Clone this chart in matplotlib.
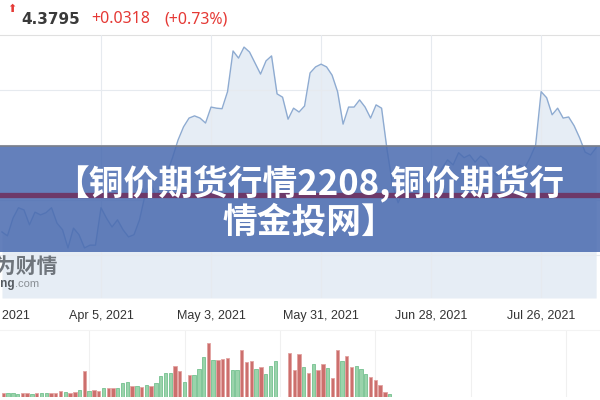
"""
Copper price chart screenshot with banner overlay.
Price line (trading-day axis) + volume bars underneath.
"""
import numpy as np
import matplotlib
matplotlib.use("Agg")
import matplotlib.pyplot as plt
import matplotlib.transforms as mtransforms
from matplotlib.patches import Rectangle

CJK = ["Noto Sans CJK SC", "DejaVu Sans"]

# ---- data -------------------------------------------------------------
START = "2021-03-09"          # first trading day on the price axis
HOLIDAYS = ["2021-04-02"]     # Good Friday, no trading
price = [
    4.420, 4.413, 4.445, 4.464, 4.460, 4.433, 4.456, 4.451, 4.455, 4.464,
    4.436, 4.424, 4.391, 4.427, 4.415, 4.391, 4.396, 4.396, 4.464, 4.445,
    4.429, 4.442, 4.424, 4.411, 4.415, 4.442, 4.487, 4.509, 4.484, 4.505,
    4.527, 4.555, 4.587, 4.611, 4.627, 4.631, 4.627, 4.618, 4.647, 4.645,
    4.644, 4.675, 4.749, 4.736, 4.756, 4.747, 4.727, 4.707, 4.731, 4.740,
    4.671, 4.665, 4.625, 4.645, 4.638, 4.649, 4.709, 4.720, 4.725, 4.720,
    4.705, 4.675, 4.616, 4.647, 4.647, 4.660, 4.647, 4.627, 4.651, 4.645,
    4.569, 4.505, 4.473, 4.496, 4.518, 4.505, 4.529, 4.515, 4.533, 4.518,
    4.536, 4.551, 4.542, 4.564, 4.555, 4.560, 4.547, 4.558, 4.551, 4.533,
    4.522, 4.533, 4.518, 4.529, 4.542, 4.536, 4.555, 4.578, 4.675, 4.664,
    4.633, 4.645, 4.627, 4.629, 4.613, 4.591, 4.565, 4.560, 4.573,
]
ref_price = 4.488             # horizontal reference line seen through banner

tick_dates = ["2021-03-08", "2021-04-05", "2021-05-03",
              "2021-05-31", "2021-06-28", "2021-07-26"]
tick_labels = ["Mar 8, 2021", "Apr 5, 2021", "May 3, 2021",
               "May 31, 2021", "Jun 28, 2021", "Jul 26, 2021"]
price_grid = [4.678, 4.578, 4.478, 4.378]

vol_slots = list(range(0, 58)) + list(range(60, 82))
volume = [
    12, 12, 12, 8, 12, 12, 8, 12, 12, 12,
    12, 12, 18, 15, 12, 15, 21, 76, 17, 21,
    18, 25, 25, 25, 25, 42, 45, 32, 32, 28,
    36, 32, 42, 63, 72, 72, 93, 76, 45, 66,
    66, 83, 120, 162, 110, 110, 114, 117, 79, 79,
    141, 104, 107, 83, 90, 69, 93, 107,
    131, 79, 128, 90, 72, 97, 79, 97, 86, 55,
    141, 107, 121, 90, 93, 83, 69, 59, 49, 36,
    14, 8,
]
# 1 = red (up day), 0 = green
vol_up = [
    1, 0, 0, 0, 1, 1, 0, 1, 0, 0,
    1, 1, 1, 0, 1, 1, 0, 1, 0, 1,
    1, 0, 1, 1, 0, 0, 0, 1, 0, 1,
    0, 1, 0, 0, 0, 0, 1, 1, 0, 1,
    0, 0, 0, 1, 0, 1, 1, 1, 0, 0,
    1, 1, 1, 0, 1, 0, 0, 0,
    1, 1, 1, 0, 1, 0, 1, 1, 0, 1,
    1, 0, 1, 1, 0, 0, 0, 1, 1, 1,
    1, 0,
]
vol_grid = [18, 38, 58, 78, 98, 118]

header_price = "4.3795"
header_change = "+0.0318"
header_pct = "(+0.73%)"
banner_lines = ["【铜价期货行情2208,铜价期货行", "情金投网】"]

# ---- layout helpers (pixels -> figure fraction) -----------------------
W, H = 600, 400
PRICE_TOP, PRICE_BOT = 35, 298
VOL_TOP, VOL_BOT = 330, 396.7
BANNER_TOP, BANNER_BOT = 146, 252


def fx(px):
    return px / W


def fy(py):
    return 1 - py / H


def ax_frac(py):
    return (PRICE_BOT - py) / (PRICE_BOT - PRICE_TOP)


fig = plt.figure(figsize=(6, 4), dpi=100)
fig.patch.set_facecolor("white")

# ---- header -------------------------------------------------------------
fig.text(fx(12), fy(9), "⬆", fontsize=8, color="#e53935", ha="center", va="center",
         family="DejaVu Sans")
fig.text(fx(21), fy(19), header_price, fontsize=11, weight="bold", color="#3a3a3a",
         family="DejaVu Sans", va="center")
fig.text(fx(91), fy(19), header_change, fontsize=11.5, color="#e53935",
         family="Noto Sans", va="center")
fig.text(fx(164), fy(19), header_pct, fontsize=11.5, color="#e53935",
         family="Noto Sans", va="center")

# ---- price panel --------------------------------------------------------
ax = fig.add_axes([0, fy(PRICE_BOT), 1, (PRICE_BOT - PRICE_TOP) / H])
x = np.arange(len(price))
ymin, ymax = 4.30, 4.778
ax.fill_between(x, price, ymin, color="#e6edf5", lw=0, zorder=1)
ax.plot(x, price, color="#8eabd1", lw=1.0, zorder=3)
ax.set_xlim(-0.36, 108.7)
ax.set_ylim(ymin, ymax)

tick_x = np.busday_count(START, tick_dates, holidays=HOLIDAYS)
ax.set_xticks(tick_x[tick_x >= 0])
ax.set_yticks(price_grid)
ax.set_xticklabels([])
ax.set_yticklabels([])
ax.tick_params(length=0)
ax.set_axisbelow(False)
ax.grid(color="#e6eaef", lw=0.8)
for side in ["left", "right", "bottom"]:
    ax.spines[side].set_visible(False)
ax.spines["top"].set_color("#e0e0e0")

# date labels (first one falls partly off the left edge, as in the screenshot)
trans = mtransforms.blended_transform_factory(ax.transData, ax.transAxes)
for tx, lab in zip(tick_x, tick_labels):
    ax.text(tx, -18 / (PRICE_BOT - PRICE_TOP), lab, transform=trans, ha="center",
            va="center", fontsize=9, color="#333333", family="Liberation Sans",
            clip_on=False)

# banner overlay
b0, b1 = ax_frac(BANNER_BOT), ax_frac(BANNER_TOP)
ax.add_patch(Rectangle((0, b0), 1, b1 - b0, transform=ax.transAxes,
                       facecolor="#4a6bb0", alpha=0.86, lw=0, zorder=5))
ax.plot([0, 1], [b1, b1], transform=ax.transAxes, color="#7a7f8a", lw=1.2, zorder=5)
ax.axhline(ref_price, color="#6d3969", lw=3.8, zorder=6)
ax.text(0.515, ax_frac(183), banner_lines[0], transform=ax.transAxes, ha="center",
        va="center", fontsize=25, weight="heavy", color="white", family=CJK, zorder=7)
ax.text(0.515, ax_frac(222), banner_lines[1], transform=ax.transAxes, ha="center",
        va="center", fontsize=25, weight="heavy", color="white", family=CJK, zorder=7)

# watermark (cut off at the left edge, as in the screenshot)
fig.text(fx(58), fy(266), "英为财情", ha="right", va="center", fontsize=15,
         weight="bold", color="#6f757c", family=CJK)
fig.text(fx(15), fy(284), "Investing", ha="right", va="center", fontsize=8.5,
         weight="bold", color="#555a60", family="Liberation Sans")
fig.text(fx(15), fy(284), ".com", ha="left", va="center", fontsize=8,
         color="#8a8f95", family="Liberation Sans")

# ---- volume panel -------------------------------------------------------
vax = fig.add_axes([0, fy(VOL_BOT), 1, (VOL_BOT - VOL_TOP) / H])
face = ["#cc6f6d" if u else "#9ad3ab" for u in vol_up]
edge = ["#e3a3a1" if u else "#74c18f" for u in vol_up]
vax.bar(vol_slots, volume, width=0.7, color=face, edgecolor=edge, lw=0.6, zorder=3)
vax.set_xlim(-0.69, 125.1)
vax.set_ylim(0, 200)
vax.set_xticks(vol_grid)
vax.set_yticks([])
vax.set_xticklabels([])
vax.tick_params(length=0)
vax.grid(axis="x", color="#f0f0f0", lw=0.8, zorder=0)
for side in ["left", "right", "bottom"]:
    vax.spines[side].set_visible(False)
vax.spines["top"].set_color("#f3f3f3")

fig.savefig("out.png", dpi=100)
